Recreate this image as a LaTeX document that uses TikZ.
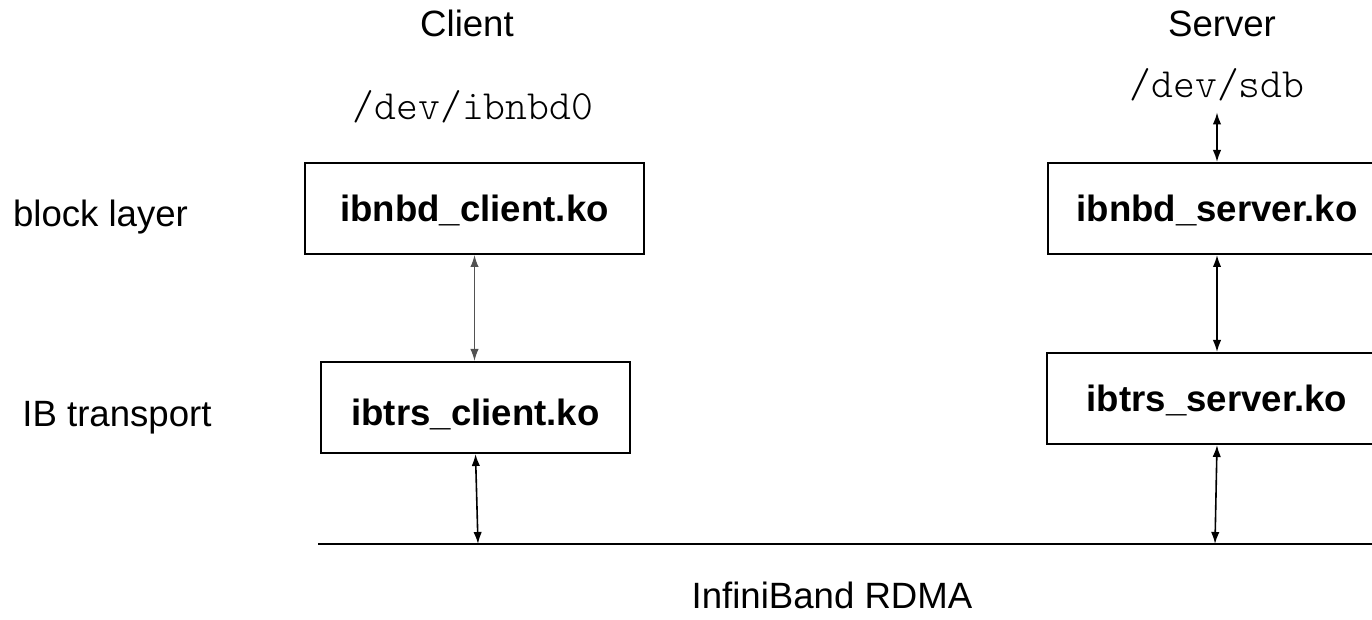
\documentclass[tikz,border=0pt]{standalone}
\usepackage{fontspec}
\setmainfont{Liberation Sans}
\setmonofont{Latin Modern Mono Light}
\usetikzlibrary{arrows.meta}
\begin{document}
\begin{tikzpicture}[x=0.5pt,y=-0.5pt,
  lbl/.style={font=\fontsize{18.3}{22}\selectfont, inner sep=0pt, anchor=base},
  dev/.style={font=\ttfamily\fontsize{20.8}{24}\selectfont, inner sep=0pt, anchor=base},
  mod/.style={draw, line width=1pt, font=\bfseries\fontsize{18.3}{22}\selectfont,
    minimum height=45.5pt, inner sep=0pt, text height=13pt, text depth=0pt},
  link/.style={{Latex[length=6pt,width=4.2pt]}-{Latex[length=6pt,width=4.2pt]}, line width=0.8pt},
  bus/.style={line width=1pt}
]
\clip (0,0) rectangle (1372,620);

% headings and labels
\node[lbl] (client) at (467,37) {Client};
\node[lbl] (server) at (1222,37) {Server};
\node[dev] (ibnbd0) at (473,120) {/dev/ibnbd0};
\node[dev, text depth=0pt, inner ysep=7pt] (sdb) at (1217,98) {/dev/sdb};
\node[lbl] (block) at (100.5,227) {block layer};
\node[lbl] (ibtr) at (117,427) {IB transport};
\node[lbl] (rdma) at (832,608) {InfiniBand RDMA};

% modules
\node[mod, minimum width=169.5pt] (cb) at (474.5,208.5) {ibnbd\_client.ko};
\node[mod, minimum width=154.5pt, text height=17.5pt] (ct) at (475.5,407.5) {ibtrs\_client.ko};
\node[mod, minimum width=169pt] (sb) at (1217,208.5) {ibnbd\_server.ko};
\node[mod, minimum width=170pt] (st) at (1217,398.5) {ibtrs\_server.ko};

% bus
\coordinate (busL) at (318,544);
\coordinate (busR) at (1372,544);
\coordinate (busC) at (478,544);
\coordinate (busS) at (1215,544);
\draw[bus] (busL) -- (busR);

% connectors
\draw[link, draw=black!68, line width=0.7pt] (cb.south) -- (cb.south |- ct.north);
\draw[link] (ct.south) -- (busC);
\draw[link] (sdb.south) -- (sb.north);
\draw[link] (sb.south) -- (st.north);
\draw[link] (st.south) -- (busS);
\end{tikzpicture}
\end{document}
